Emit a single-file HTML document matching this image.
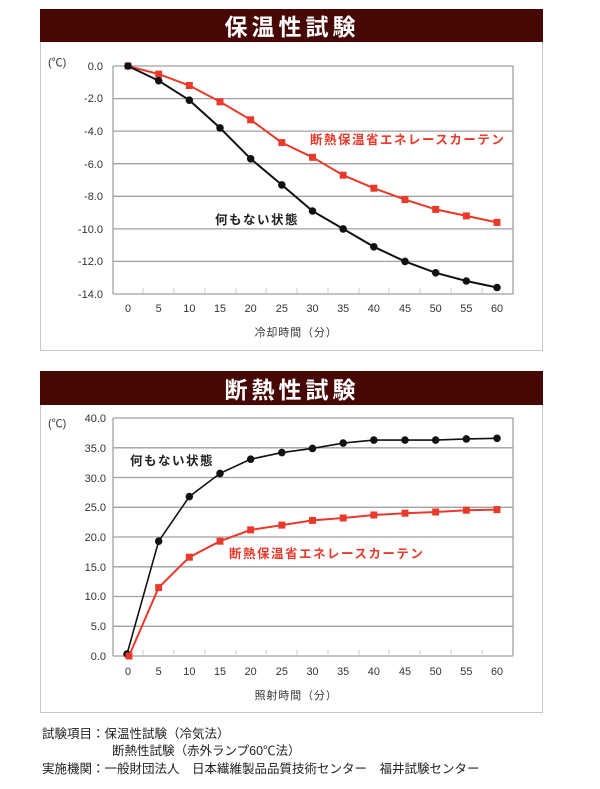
<!DOCTYPE html>
<html><head><meta charset="utf-8"><style>
body{margin:0;background:#fff;width:600px;height:784px;overflow:hidden;font-family:"Liberation Sans","Noto Sans CJK JP",sans-serif}
</style></head><body>
<svg width="600" height="784" xmlns="http://www.w3.org/2000/svg" font-family="Liberation Sans, Noto Sans CJK JP, sans-serif">
<!-- chart 1 -->
<rect x="40.5" y="9.5" width="502" height="341" fill="#fff" stroke="#c8c8c8"/>
<rect x="40" y="9" width="503" height="33" fill="#470805"/>
<text x="292" y="35" fill="#fff" font-size="23" font-weight="bold" text-anchor="middle" letter-spacing="4">保温性試験</text>
<text x="48" y="66" font-size="11" fill="#333">(℃)</text>
<g stroke="#a0a0a0" stroke-width="1.3">
<line x1="113" y1="66" x2="513" y2="66"/><line x1="113" y1="98.6" x2="513" y2="98.6"/><line x1="113" y1="131.1" x2="513" y2="131.1"/><line x1="113" y1="163.7" x2="513" y2="163.7"/><line x1="113" y1="196.3" x2="513" y2="196.3"/><line x1="113" y1="228.9" x2="513" y2="228.9"/><line x1="113" y1="261.4" x2="513" y2="261.4"/><line x1="113" y1="294" x2="513" y2="294"/>
<line x1="113" y1="66" x2="113" y2="294"/><line x1="513" y1="66" x2="513" y2="294"/>
</g>
<g stroke="#ccc" stroke-width="1">
<line x1="143" y1="288" x2="143" y2="294"/><line x1="174" y1="288" x2="174" y2="294"/><line x1="205" y1="288" x2="205" y2="294"/><line x1="236" y1="288" x2="236" y2="294"/><line x1="266" y1="288" x2="266" y2="294"/><line x1="297" y1="288" x2="297" y2="294"/><line x1="328" y1="288" x2="328" y2="294"/><line x1="359" y1="288" x2="359" y2="294"/><line x1="389" y1="288" x2="389" y2="294"/><line x1="420" y1="288" x2="420" y2="294"/><line x1="451" y1="288" x2="451" y2="294"/><line x1="482" y1="288" x2="482" y2="294"/>
</g>
<g font-size="11" fill="#333" text-anchor="end">
<text x="103" y="70">0.0</text><text x="103" y="102">-2.0</text><text x="103" y="135">-4.0</text><text x="103" y="168">-6.0</text><text x="103" y="200">-8.0</text><text x="103" y="233">-10.0</text><text x="103" y="265">-12.0</text><text x="103" y="298">-14.0</text>
</g>
<g transform="matrix(0.9893,0,0,1,-0.61,0)">
<g font-size="11" fill="#333" text-anchor="middle">
<text x="130" y="312">0</text><text x="161" y="312">5</text><text x="192" y="312">10</text><text x="223" y="312">15</text><text x="254" y="312">20</text><text x="285.5" y="312">25</text><text x="316.5" y="312">30</text><text x="347.5" y="312">35</text><text x="378.5" y="312">40</text><text x="410" y="312">45</text><text x="441" y="312">50</text><text x="472" y="312">55</text><text x="503" y="312">60</text>
<text x="300" y="336" letter-spacing="1">冷却時間（分）</text>
</g>
<polyline fill="none" stroke="#e8392a" stroke-width="2" points="130,66 161,74.1 192,85.5 223,101.8 254,119.8 285.5,142.6 316.5,157.3 347.5,175.2 378.5,188.2 410,199.6 441,209.4 472,215.9 503,222.4"/>
<g fill="#e8392a">
<rect x="126.5" y="62.5" width="7" height="7"/><rect x="157.5" y="70.6" width="7" height="7"/><rect x="188.5" y="82" width="7" height="7"/><rect x="219.5" y="98.3" width="7" height="7"/><rect x="250.5" y="116.3" width="7" height="7"/><rect x="282" y="139.1" width="7" height="7"/><rect x="313" y="153.8" width="7" height="7"/><rect x="344" y="171.7" width="7" height="7"/><rect x="375" y="184.7" width="7" height="7"/><rect x="406.5" y="196.1" width="7" height="7"/><rect x="437.5" y="205.9" width="7" height="7"/><rect x="468.5" y="212.4" width="7" height="7"/><rect x="499.5" y="218.9" width="7" height="7"/>
</g>
<polyline fill="none" stroke="#111" stroke-width="2" points="130,66 161,80.7 192,100.2 223,127.9 254,158.8 285.5,184.9 316.5,211 347.5,228.9 378.5,246.8 410,261.4 441,272.8 472,281 503,287.5"/>
<g fill="#111">
<circle cx="130" cy="66" r="3.8"/><circle cx="161" cy="80.7" r="3.8"/><circle cx="192" cy="100.2" r="3.8"/><circle cx="223" cy="127.9" r="3.8"/><circle cx="254" cy="158.8" r="3.8"/><circle cx="285.5" cy="184.9" r="3.8"/><circle cx="316.5" cy="211" r="3.8"/><circle cx="347.5" cy="228.9" r="3.8"/><circle cx="378.5" cy="246.8" r="3.8"/><circle cx="410" cy="261.4" r="3.8"/><circle cx="441" cy="272.8" r="3.8"/><circle cx="472" cy="281" r="3.8"/><circle cx="503" cy="287.5" r="3.8"/>
</g>
</g>
<text x="310" y="144" font-size="12.5" font-weight="bold" fill="#e8392a" letter-spacing="1.5">断熱保温省エネレースカーテン</text>
<text x="215" y="224" font-size="12.5" font-weight="bold" fill="#222" letter-spacing="1.5">何もない状態</text>

<!-- chart 2 -->
<rect x="40.5" y="371.5" width="502" height="341" fill="#fff" stroke="#c8c8c8"/>
<rect x="40" y="371" width="503" height="34" fill="#470805"/>
<text x="292" y="398" fill="#fff" font-size="23" font-weight="bold" text-anchor="middle" letter-spacing="4">断熱性試験</text>
<text x="48" y="427" font-size="11" fill="#333">(℃)</text>
<g stroke="#a0a0a0" stroke-width="1.3">
<line x1="113" y1="418" x2="513" y2="418"/><line x1="113" y1="447.8" x2="513" y2="447.8"/><line x1="113" y1="477.5" x2="513" y2="477.5"/><line x1="113" y1="507.3" x2="513" y2="507.3"/><line x1="113" y1="537" x2="513" y2="537"/><line x1="113" y1="566.8" x2="513" y2="566.8"/><line x1="113" y1="596.5" x2="513" y2="596.5"/><line x1="113" y1="626.3" x2="513" y2="626.3"/><line x1="113" y1="656" x2="513" y2="656"/>
<line x1="113" y1="418" x2="113" y2="656"/><line x1="513" y1="418" x2="513" y2="656"/>
</g>
<g stroke="#ccc" stroke-width="1">
<line x1="143" y1="650" x2="143" y2="656"/><line x1="174" y1="650" x2="174" y2="656"/><line x1="205" y1="650" x2="205" y2="656"/><line x1="236" y1="650" x2="236" y2="656"/><line x1="266" y1="650" x2="266" y2="656"/><line x1="297" y1="650" x2="297" y2="656"/><line x1="328" y1="650" x2="328" y2="656"/><line x1="359" y1="650" x2="359" y2="656"/><line x1="389" y1="650" x2="389" y2="656"/><line x1="420" y1="650" x2="420" y2="656"/><line x1="451" y1="650" x2="451" y2="656"/><line x1="482" y1="650" x2="482" y2="656"/>
</g>
<g font-size="11" fill="#333" text-anchor="end">
<text x="106" y="422">40.0</text><text x="106" y="452">35.0</text><text x="106" y="482">30.0</text><text x="106" y="511">25.0</text><text x="106" y="541">20.0</text><text x="106" y="571">15.0</text><text x="106" y="600">10.0</text><text x="106" y="630">5.0</text><text x="106" y="660">0.0</text>
</g>
<g transform="matrix(0.9893,0,0,1,-0.61,0)">
<g font-size="11" fill="#333" text-anchor="middle">
<text x="130" y="675">0</text><text x="161" y="675">5</text><text x="192" y="675">10</text><text x="223" y="675">15</text><text x="254" y="675">20</text><text x="285.5" y="675">25</text><text x="316.5" y="675">30</text><text x="347.5" y="675">35</text><text x="378.5" y="675">40</text><text x="410" y="675">45</text><text x="441" y="675">50</text><text x="472" y="675">55</text><text x="503" y="675">60</text>
<text x="300" y="699" letter-spacing="1">照射時間（分）</text>
</g>
<polyline fill="none" stroke="#111" stroke-width="1.6" points="129,654 161,541.2 192,496.6 223,473.4 254,459.2 285.5,452.6 316.5,448.4 347.5,443.1 378.5,440.1 410,440.1 441,440.1 472,438.9 503,438.3"/>
<g fill="#111">
<circle cx="129" cy="654" r="3.8"/><circle cx="161" cy="541.2" r="3.8"/><circle cx="192" cy="496.6" r="3.8"/><circle cx="223" cy="473.4" r="3.8"/><circle cx="254" cy="459.2" r="3.8"/><circle cx="285.5" cy="452.6" r="3.8"/><circle cx="316.5" cy="448.4" r="3.8"/><circle cx="347.5" cy="443.1" r="3.8"/><circle cx="378.5" cy="440.1" r="3.8"/><circle cx="410" cy="440.1" r="3.8"/><circle cx="441" cy="440.1" r="3.8"/><circle cx="472" cy="438.9" r="3.8"/><circle cx="503" cy="438.3" r="3.8"/>
</g>
<polyline fill="none" stroke="#e8392a" stroke-width="2" points="131,656 161,587.6 192,557.2 223,541.2 254,529.9 285.5,525.1 316.5,520.4 347.5,518 378.5,515 410,513.2 441,512 472,510.2 503,509.6"/>
<g fill="#e8392a">
<rect x="127.5" y="652.5" width="7" height="7"/><rect x="157.5" y="584.1" width="7" height="7"/><rect x="188.5" y="553.7" width="7" height="7"/><rect x="219.5" y="537.7" width="7" height="7"/><rect x="250.5" y="526.4" width="7" height="7"/><rect x="282" y="521.6" width="7" height="7"/><rect x="313" y="516.9" width="7" height="7"/><rect x="344" y="514.5" width="7" height="7"/><rect x="375" y="511.5" width="7" height="7"/><rect x="406.5" y="509.7" width="7" height="7"/><rect x="437.5" y="508.5" width="7" height="7"/><rect x="468.5" y="506.7" width="7" height="7"/><rect x="499.5" y="506.1" width="7" height="7"/>
</g>
</g>
<text x="130" y="465" font-size="12.5" font-weight="bold" fill="#222" letter-spacing="1.5">何もない状態</text>
<text x="229" y="558" font-size="12.5" font-weight="bold" fill="#e8392a" letter-spacing="1.5">断熱保温省エネレースカーテン</text>

<g font-size="12.5" fill="#222">
<text x="42" y="738">試験項目：保温性試験（冷気法）</text>
<text x="112" y="755">断熱性試験（赤外ランプ60℃法）</text>
<text x="42" y="773">実施機関：一般財団法人　日本繊維製品品質技術センター　福井試験センター</text>
</g>
</svg>
</body></html>
